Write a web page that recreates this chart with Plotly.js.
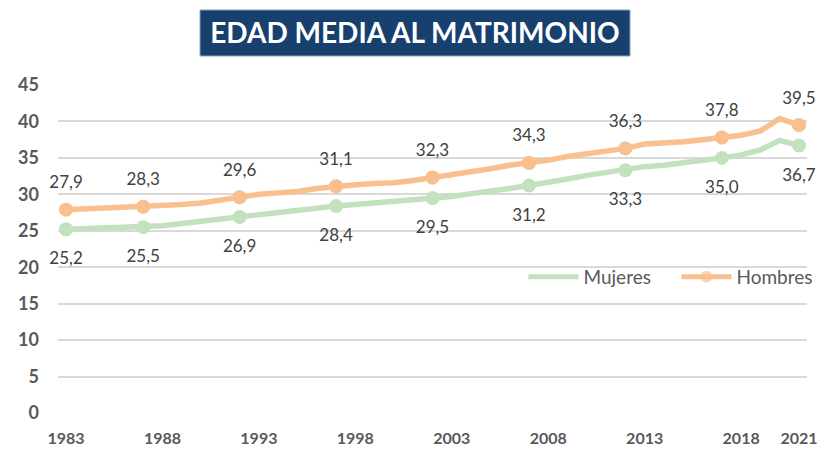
<!DOCTYPE html>
<html>
<head>
<meta charset="utf-8">
<script src="https://cdn.plot.ly/plotly-3.0.1.min.js"></script>
<style>html,body{margin:0;padding:0;background:#fff;}#chart{width:821px;height:454px;}</style>
</head>
<body>
<div id="chart"></div>
<script>
// Yearly series
const years = [1983,1984,1985,1986,1987,1988,1989,1990,1991,1992,1993,1994,1995,1996,1997,1998,1999,2000,2001,2002,2003,2004,2005,2006,2007,2008,2009,2010,2011,2012,2013,2014,2015,2016,2017,2018,2019,2020,2021];
const mujeres = [25.2,25.3,25.3,25.4,25.5,25.7,26.0,26.3,26.6,26.9,27.3,27.6,27.9,28.2,28.4,28.6,28.8,29.0,29.2,29.5,29.7,30.1,30.4,30.8,31.2,31.6,32.1,32.6,33.0,33.3,33.8,34.0,34.3,34.6,35.0,35.4,36.1,37.4,36.7];
const hombres = [27.9,28.0,28.1,28.2,28.3,28.5,28.6,28.8,29.2,29.6,30.0,30.2,30.4,30.8,31.1,31.3,31.5,31.6,31.9,32.3,32.6,33.0,33.5,34.0,34.3,34.7,35.2,35.6,36.0,36.3,36.9,37.0,37.2,37.5,37.8,38.1,38.7,40.4,39.5];
// Labelled points
const labelYears = [1983,1987,1992,1997,2002,2007,2012,2017,2021];
const mujeresLabel = [25.2,25.5,26.9,28.4,29.5,31.2,33.3,35.0,36.7];
const hombresLabel = [27.9,28.3,29.6,31.1,32.3,34.3,36.3,37.8,39.5];
// Axis ticks
const tickYears = [1983,1988,1993,1998,2003,2008,2013,2018,2021];
const tickLabels = ["1983","1988","1993","1998","2003","2008","2013","2018","2021"];

const GREEN = '#C3E1BF', ORANGE = '#F9C08F';
const fmt = v => v.toFixed(1).replace('.', ',');
const labelFont = {family:'Lato, sans-serif', size:17, color:'#404040'};
const hombresSizes = years.map(y => labelYears.includes(y) ? 14 : 0);

const traces = [
  {x: years, y: mujeres, name: 'Mujeres', mode: 'lines', line: {color: GREEN, width: 5.5}, hoverinfo: 'skip'},
  {x: years, y: hombres, name: 'Hombres', mode: 'lines+markers', line: {color: ORANGE, width: 5.5},
   marker: {size: hombresSizes, color: ORANGE, line: {width: 0}}, hoverinfo: 'skip', cliponaxis: false},
  {x: labelYears, y: mujeresLabel, mode: 'markers', marker: {size: 14, color: GREEN, line: {width: 0}}, showlegend: false, cliponaxis: false},
  {x: labelYears, y: hombresLabel, mode: 'markers', marker: {size: 14, color: ORANGE, line: {width: 0}}, showlegend: false, cliponaxis: false},
  {x: labelYears, y: mujeresLabel, mode: 'markers+text', text: mujeresLabel.map(fmt), textposition: 'bottom center', textfont: labelFont,
   marker: {size: 34, color: 'rgba(0,0,0,0)'}, showlegend: false, cliponaxis: false},
  {x: labelYears, y: hombresLabel, mode: 'markers+text', text: hombresLabel.map(fmt), textposition: 'top center', textfont: labelFont,
   marker: {size: 26, color: 'rgba(0,0,0,0)'}, showlegend: false, cliponaxis: false}
];

const layout = {
  width: 821, height: 454,
  margin: {l: 58, r: 14, t: 85, b: 41, autoexpand: false},
  paper_bgcolor: '#fff', plot_bgcolor: '#fff',
  title: {text: '<b>EDAD MEDIA AL MATRIMONIO</b>', x: 0.4766, xanchor: 'center', xref: 'paper',
          y: 0.927, yanchor: 'middle', yref: 'container',
          font: {family: 'Lato, sans-serif', size: 28, color: '#ffffff'}},
  shapes: [{type: 'rect', xref: 'paper', yref: 'paper', x0: 0.1896, x1: 0.7637, y0: 1.0884, y1: 1.2287,
            fillcolor: '#17406E', line: {color: '#8EA3BE', width: 1}, layer: 'below'}],
  xaxis: {range: [1982.585, 2021.415], tickvals: tickYears, ticktext: tickLabels, showgrid: false, zeroline: false,
          showline: false, ticks: '', ticklabelstandoff: 14,
          tickfont: {family: 'Lato, sans-serif', size: 16, color: '#595959', weight: 'bold'}},
  yaxis: {range: [0, 45], dtick: 5, tick0: 0, showgrid: true, gridcolor: '#D9D9D9', gridwidth: 2, zeroline: false,
          showline: false, ticks: '', ticklabelstandoff: 18,
          tickfont: {family: 'Lato, sans-serif', size: 18, color: '#595959', weight: 'bold'}},
  legend: {orientation: 'h', x: 1.03, xanchor: 'right', y: 0.415, yanchor: 'middle', bgcolor: 'rgba(0,0,0,0)',
           itemsizing: 'constant', itemwidth: 50, entrywidth: 88,
           font: {family: 'Lato, sans-serif', size: 19, color: '#595959'}},
  showlegend: true
};

Plotly.newPlot('chart', traces, layout, {displayModeBar: false, staticPlot: true});
</script>
</body>
</html>
